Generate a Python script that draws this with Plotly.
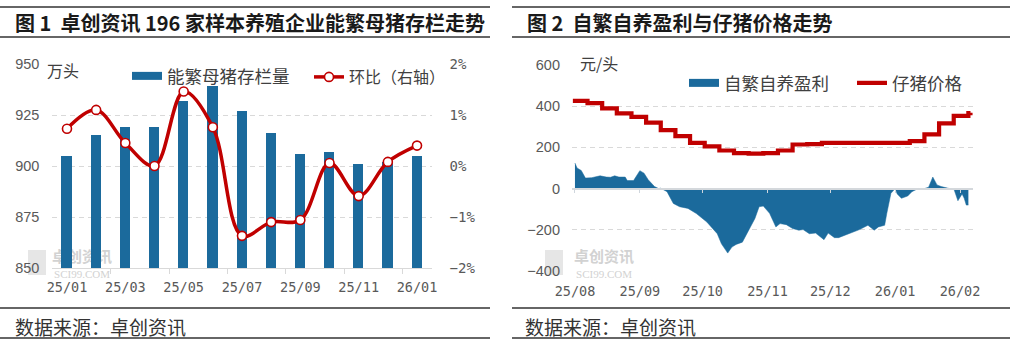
import plotly.graph_objects as go

W, H = 1015, 352
BLUE = "#1b6a9c"
RED = "#c00000"
GRID = "#d9d9d9"
TICKCOL = "#595959"
CJK = "Noto Sans CJK SC"

# ---------------- data: chart 1 ----------------
months = ["25/01", "25/02", "25/03", "25/04", "25/05", "25/06", "25/07",
          "25/08", "25/09", "25/10", "25/11", "25/12", "26/01"]
sow_inventory = [905, 915, 919, 919, 932, 939, 927, 916, 906, 907, 901, 902, 905]
sow_mom_pct = [0.73, 1.10, 0.45, 0.0, 1.46, 0.76, -1.37, -1.10, -1.06, 0.06, -0.59, 0.08, 0.40]

# ---------------- data: chart 2 ----------------
price_dates = ["2025-07-31", "2025-08-07", "2025-08-14", "2025-08-21", "2025-08-28",
               "2025-09-04", "2025-09-11", "2025-09-18", "2025-09-25", "2025-10-02",
               "2025-10-09", "2025-10-16", "2025-10-23", "2025-10-30", "2025-11-06",
               "2025-11-13", "2025-11-20", "2025-11-27", "2025-12-04", "2025-12-11",
               "2025-12-18", "2025-12-25", "2026-01-01", "2026-01-08", "2026-01-15",
               "2026-01-22", "2026-01-29", "2026-02-05", "2026-02-06"]
piglet_price = [426, 415, 389, 365, 348, 320, 284, 255, 222, 205,
                185, 172, 170, 172, 185, 214, 216, 222, 222, 222,
                222, 222, 222, 230, 263, 317, 353, 366, 368]

profit_dates = ["2025-08-01", "2025-08-02", "2025-08-04", "2025-08-06", "2025-08-09",
                "2025-08-13", "2025-08-16", "2025-08-18", "2025-08-20", "2025-08-22",
                "2025-08-25", "2025-08-26", "2025-08-29", "2025-09-01", "2025-09-03",
                "2025-09-05", "2025-09-08", "2025-09-10", "2025-09-11", "2025-09-14",
                "2025-09-17", "2025-09-20", "2025-09-24", "2025-09-28", "2025-10-03",
                "2025-10-08", "2025-10-10", "2025-10-13", "2025-10-15", "2025-10-17",
                "2025-10-20", "2025-10-23", "2025-10-26", "2025-10-28", "2025-10-30",
                "2025-11-02", "2025-11-05", "2025-11-07", "2025-11-10", "2025-11-13",
                "2025-11-16", "2025-11-18", "2025-11-21", "2025-11-24", "2025-11-28",
                "2025-11-30", "2025-12-03", "2025-12-05", "2025-12-08", "2025-12-12",
                "2025-12-15", "2025-12-19", "2025-12-22", "2025-12-24", "2025-12-27",
                "2025-12-28", "2025-12-30", "2026-01-01", "2026-01-02", "2026-01-04",
                "2026-01-07", "2026-01-09", "2026-01-12", "2026-01-15", "2026-01-17",
                "2026-01-19", "2026-01-21", "2026-01-23", "2026-01-27", "2026-01-29",
                "2026-01-30", "2026-01-31", "2026-02-02", "2026-02-03", "2026-02-04",
                "2026-02-05"]
self_breeding_profit = [124, 100, 88, 51, 53, 62, 56, 55, 62, 56,
                        56, 39, 39, 87, 75, 43, 10, 0, 2, -15,
                        -72, -88, -96, -121, -162, -219, -268, -313, -284, -271,
                        -260, -202, -145, -88, -85, -120, -186, -170, -175, -194,
                        -202, -199, -219, -216, -248, -216, -238, -238, -227, -211,
                        -199, -178, -202, -186, -178, -121, -23, 0, -26, -47,
                        -36, -15, 0, 0, 7, 56, 18, 10, 0, 0,
                        -31, -59, -26, -47, -80, -80]

month_ticks_right = ["2025-08-01", "2025-09-01", "2025-10-01", "2025-11-01",
                     "2025-12-01", "2026-01-01", "2026-02-01"]
month_labels_right = ["25/08", "25/09", "25/10", "25/11", "25/12", "26/01", "26/02"]


def px(x):
    return x / W


def py(y):
    return 1 - y / H


# plot-area geometry (pixels)
L_X0, L_X1, L_YT, L_YB = 52.4, 431.6, 64, 268
R_X0, R_X1, R_YT, R_YB = 572, 973, 65, 271

fig = go.Figure()

# ---- chart 1 traces ----
fig.add_trace(go.Bar(x=months, y=sow_inventory, width=0.35, marker=dict(color=BLUE, line=dict(width=0)),
                     xaxis="x", yaxis="y", showlegend=False))
fig.add_trace(go.Scatter(x=months, y=sow_mom_pct, xaxis="x", yaxis="y2", mode="lines+markers",
                         line=dict(color=RED, width=3.5, shape="spline", smoothing=1),
                         marker=dict(size=9, color="white", line=dict(color=RED, width=1.6)),
                         showlegend=False))
# legend entries chart 1
fig.add_trace(go.Scatter(x=[None], y=[None], xaxis="x", yaxis="y", mode="lines",
                         line=dict(color=BLUE, width=8), name="能繁母猪存栏量", legend="legend"))
fig.add_trace(go.Scatter(x=[None], y=[None], xaxis="x", yaxis="y", mode="lines+markers",
                         line=dict(color=RED, width=3.5),
                         marker=dict(size=9, color="white", line=dict(color=RED, width=1.6)),
                         name="环比（右轴）", legend="legend3"))
fig.add_trace(go.Scatter(x=[None], y=[None], xaxis="x3", yaxis="y", showlegend=False))

# ---- chart 2 traces ----
fig.add_trace(go.Scatter(x=profit_dates, y=self_breeding_profit, xaxis="x2", yaxis="y3",
                         mode="lines", fill="tozeroy", fillcolor=BLUE,
                         line=dict(color=BLUE, width=0.5), showlegend=False))
fig.add_trace(go.Scatter(x=price_dates, y=piglet_price, xaxis="x2", yaxis="y3", mode="lines",
                         line=dict(color=RED, width=4.2, shape="hv"), showlegend=False))
fig.add_trace(go.Scatter(x=[None], y=[None], xaxis="x2", yaxis="y3", mode="lines",
                         line=dict(color=BLUE, width=8), name="自繁自养盈利", legend="legend2"))
fig.add_trace(go.Scatter(x=[None], y=[None], xaxis="x2", yaxis="y3", mode="lines",
                         line=dict(color=RED, width=4.2), name="仔猪价格", legend="legend4"))
fig.add_trace(go.Scatter(x=[None], y=[None], xaxis="x4", yaxis="y3", showlegend=False))

tickfont_mono = dict(family="DejaVu Sans Mono", size=13.5, color=TICKCOL)
tickfont_num = dict(family="Liberation Sans", size=14.5, color=TICKCOL)

r_yb, r_yt = py(R_YB), py(R_YT)
zero_pos = r_yb + (0 - (-400)) / (600 - (-400)) * (r_yt - r_yb)
x2_range = ["2025-07-30 14:00", "2026-02-07 05:00"]


def leg(xpix, ypix, size=17.5):
    return dict(x=px(xpix), y=py(ypix), xanchor="left", yanchor="middle", orientation="h",
                font=dict(family=CJK, size=size, color="#404040"), bgcolor="rgba(0,0,0,0)")


fig.update_layout(
    width=W, height=H,
    margin=dict(l=0, r=0, t=0, b=0, autoexpand=False),
    paper_bgcolor="white", plot_bgcolor="white",
    bargap=0,
    xaxis=dict(domain=[px(L_X0), px(L_X1)], anchor="y", type="category", range=[-0.5, 12.5],
               tickmode="array", tickvals=months[::2], ticks="", showline=False, showgrid=False,
               zeroline=False, tickfont=tickfont_mono, ticklabelstandoff=9),
    xaxis3=dict(overlaying="x", anchor="y", type="linear", range=[-0.5, 12.5],
                tickmode="array", tickvals=[i + 0.5 for i in range(1, 12, 2)],
                ticks="outside", ticklen=5, tickcolor=GRID, tickwidth=1,
                showline=True, linecolor=GRID, linewidth=1, showticklabels=False,
                showgrid=False, zeroline=False),
    yaxis=dict(domain=[py(L_YB), py(L_YT)], anchor="x", range=[850, 950], tick0=850, dtick=25,
               showgrid=True, gridcolor=GRID, griddash="5px,4px", gridwidth=1, zeroline=False,
               ticks="", tickfont=tickfont_num, ticklabelstandoff=12),
    yaxis2=dict(overlaying="y", side="right", anchor="x", range=[-2, 2], dtick=1, ticksuffix="%",
                showgrid=False, zeroline=False, ticks="",
                tickfont=dict(family="DejaVu Sans Mono", size=14, color=TICKCOL), ticklabelstandoff=17),
    xaxis2=dict(domain=[px(R_X0), px(R_X1)], anchor="y3", type="date", range=x2_range,
                tickmode="array", tickvals=month_ticks_right, ticktext=month_labels_right,
                ticks="", showline=False, showgrid=False, zeroline=False,
                tickfont=tickfont_mono, ticklabelstandoff=10),
    xaxis4=dict(overlaying="x2", anchor="free", position=zero_pos, type="date", range=x2_range,
                tickmode="array", tickvals=month_ticks_right, ticks="outside", ticklen=4,
                tickcolor="#cfd6dd", showline=True, linecolor="#d4d8dc", linewidth=1.5,
                showticklabels=False, showgrid=False, zeroline=False, layer="above traces"),
    yaxis3=dict(domain=[r_yb, r_yt], anchor="x2", range=[-400, 600], tick0=0, dtick=200,
                showgrid=True, gridcolor=GRID, griddash="5px,4px", gridwidth=1, zeroline=False,
                ticks="", tickfont=tickfont_num, ticklabelstandoff=11),
    legend=leg(127, 76),
    legend3=leg(309, 77, 16),
    legend2=leg(684, 83),
    legend4=leg(852, 83),
)

shapes = []
for (xa, xb) in [(0, 490), (512, 1010)]:
    for yy in (7, 37, 308, 338):
        shapes.append(dict(type="line", xref="paper", yref="paper", x0=px(xa), x1=px(xb),
                           y0=py(yy), y1=py(yy), line=dict(color="#333333", width=1.6)))

# watermarks (drawn below data)
for (ix, tx) in [(28, 50), (545, 572)]:
    shapes.append(dict(type="rect", xref="paper", yref="paper", x0=px(ix), x1=px(ix + 18),
                       y0=py(275), y1=py(250), layer="below", line=dict(width=0),
                       fillcolor="#e6e6e6"))
    shapes.append(dict(type="rect", xref="paper", yref="paper", x0=px(tx), x1=px(tx + 64),
                       y0=py(266), y1=py(248), layer="below", line=dict(width=0),
                       fillcolor="rgba(0,0,0,0)",
                       label=dict(text="<b>卓创资讯</b>", textposition="middle center",
                                  font=dict(family=CJK, size=15, color="#d2d2d2"))))
    shapes.append(dict(type="rect", xref="paper", yref="paper", x0=px(tx), x1=px(tx + 64),
                       y0=py(278), y1=py(268), layer="below", line=dict(width=0),
                       fillcolor="rgba(0,0,0,0)",
                       label=dict(text="SCI99.COM", textposition="middle center",
                                  font=dict(family="Liberation Serif", size=11, color="#d2d2d2"))))
fig.update_layout(shapes=shapes)

ann = []
ann.append(dict(text="<b>图 1  卓创资讯 196 家样本养殖企业能繁母猪存栏走势</b>", x=px(13), y=py(23)))
ann.append(dict(text="<b>图 2  自繁自养盈利与仔猪价格走势</b>", x=px(525), y=py(23)))
for a in ann:
    a.update(font=dict(family=CJK, size=20, color="#1a1a1a"))
ann.append(dict(text="数据来源：卓创资讯", x=px(13), y=py(326),
                font=dict(family=CJK, size=19, color="#333333")))
ann.append(dict(text="数据来源：卓创资讯", x=px(523), y=py(326),
                font=dict(family=CJK, size=19, color="#333333")))
ann.append(dict(text="万头", x=px(45), y=py(70), font=dict(family=CJK, size=16, color="#404040")))
ann.append(dict(text="元/头", x=px(578), y=py(63), font=dict(family=CJK, size=16, color="#404040")))
for a in ann:
    a.update(xref="paper", yref="paper", xanchor="left", yanchor="middle", showarrow=False)
fig.update_layout(annotations=ann)

fig.write_html("out.html")
